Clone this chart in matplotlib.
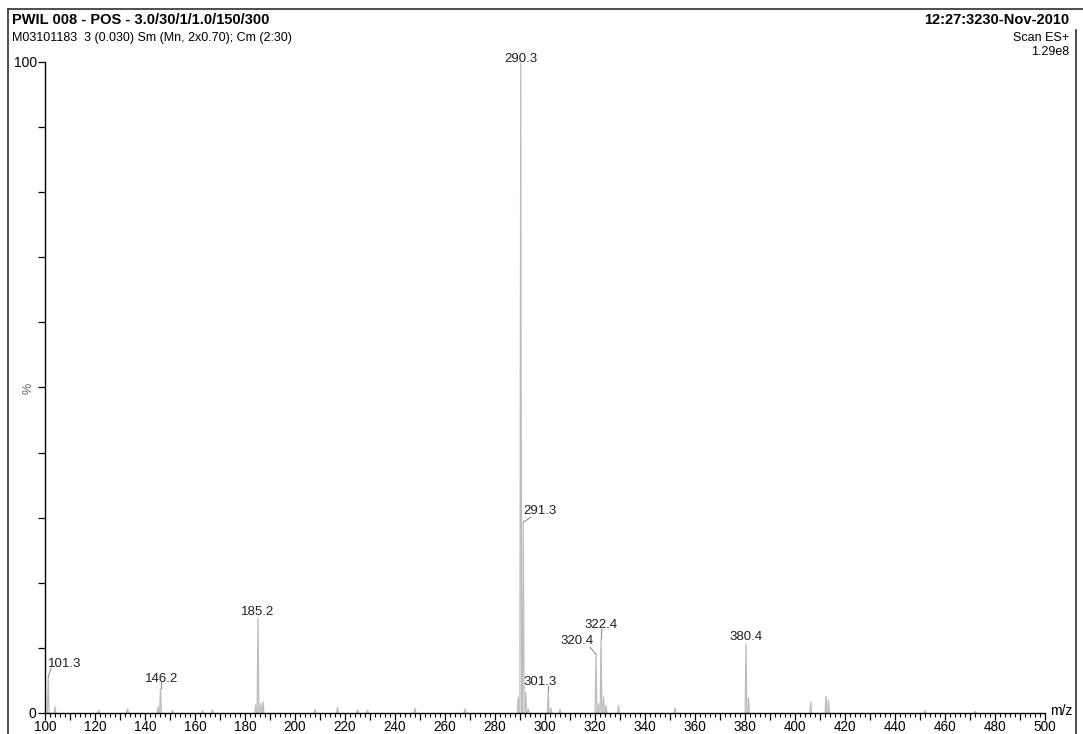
import matplotlib
matplotlib.use("Agg")
import matplotlib.pyplot as plt
from matplotlib.lines import Line2D
from matplotlib.ticker import MultipleLocator, FuncFormatter

plt.rcParams['font.family'] = ['Liberation Sans', 'DejaVu Sans']

# labelled peaks: m/z, relative intensity (%)
peak_mz = [101.3, 146.2, 185.2, 290.3, 291.3, 301.3, 320.4, 322.4, 380.4]
peak_int = [5.5, 3.8, 14.6, 100.0, 29.3, 3.4, 9.0, 11.5, 10.7]
peak_lbl = ["101.3", "146.2", "185.2", "290.3", "291.3", "301.3", "320.4", "322.4", "380.4"]
# where each label sits (m/z, %) and where its leader line ends
lbl_x = [108.0, 146.8, 185.2, 290.4, 298.0, 298.0, 313.0, 322.4, 380.4]
lbl_y = [6.6, 4.3, 14.6, 99.5, 30.1, 3.8, 10.1, 12.6, 10.7]
lead_x = [102.4, 146.2, 185.2, 290.3, 294.4, 301.3, 318.0, 322.4, 380.4]
lead_y = [6.9, 4.7, 14.6, 100.0, 30.1, 4.2, 10.1, 12.9, 10.7]

# small unlabelled peaks
minor_mz = [104.0, 121.5, 133.0, 145.2, 151.0, 163.0, 167.0, 184.3, 186.2, 187.2,
            208.0, 217.0, 225.0, 229.0, 248.0, 268.0, 289.3, 292.3, 293.3, 302.3,
            306.0, 321.4, 323.4, 324.4, 329.4, 352.0, 381.4, 406.3, 412.4, 413.4,
            452.0, 472.0]
minor_int = [1.0, 0.4, 0.7, 1.0, 0.4, 0.4, 0.5, 1.3, 1.5, 1.8,
             0.6, 0.9, 0.5, 0.5, 0.8, 0.7, 2.5, 3.2, 0.6, 0.8,
             0.6, 1.5, 2.5, 1.2, 1.2, 0.8, 2.4, 1.7, 2.6, 2.0,
             0.4, 0.3]

W, H = 1083, 734
fig = plt.figure(figsize=(W / 100, H / 100), dpi=100)
ax = fig.add_axes([45 / W, 21 / H, 1000 / W, 651 / H])

pc = '#bcbcbc'
hw = 0.35
for m, h in zip(minor_mz + peak_mz, minor_int + peak_int):
    ax.plot([m - hw, m, m + hw], [0, h, 0], color=pc, lw=0.9, solid_joinstyle='miter')

for m, h, t, tx, ty, ex, ey in zip(peak_mz, peak_int, peak_lbl, lbl_x, lbl_y, lead_x, lead_y):
    ax.text(tx, ty, t, ha='center', va='bottom', fontsize=9.5, color='#202020', clip_on=False)
    # leader from the peak top to the label
    if abs(ex - m) > 0.05 or abs(ey - h) > 0.3:
        ax.plot([m, ex], [h, ey], color='#909090', lw=0.8, clip_on=False)

ax.set_xlim(100, 500)
ax.set_ylim(0, 100)
for s in ['top', 'right']:
    ax.spines[s].set_visible(False)
for s in ['left', 'bottom']:
    ax.spines[s].set_linewidth(1.0)
    ax.spines[s].set_color('black')
ax.patch.set_alpha(0)

ax.xaxis.set_major_locator(MultipleLocator(10))
ax.xaxis.set_minor_locator(MultipleLocator(2))
ax.xaxis.set_major_formatter(FuncFormatter(lambda v, p: f"{v:.0f}" if v % 20 == 0 else ""))
ax.yaxis.set_major_locator(MultipleLocator(10))
ax.yaxis.set_major_formatter(FuncFormatter(lambda v, p: f"{v:.0f}" if v in (0, 100) else ""))
ax.tick_params(axis='x', which='major', direction='out', length=5, width=0.9, pad=0, labelsize=9.8)
ax.tick_params(axis='x', which='minor', direction='out', length=3, width=0.8)
ax.tick_params(axis='y', which='major', direction='out', length=5, width=0.9, pad=1, labelsize=10)

# header and surrounding frame
fig.text(12 / W, 1 - 20 / H, "PWIL 008 - POS - 3.0/30/1/1.0/150/300", fontsize=10.5,
         fontweight='bold', va='center', ha='left')
fig.text(12 / W, 1 - 38 / H, "M03101183  3 (0.030) Sm (Mn, 2x0.70); Cm (2:30)", fontsize=9,
         va='center', ha='left')
fig.text(1069 / W, 1 - 20 / H, "12:27:3230-Nov-2010", fontsize=10.5, fontweight='bold',
         va='center', ha='right')
fig.text(1069 / W, 1 - 38 / H, "Scan ES+", fontsize=9, va='center', ha='right')
fig.text(1069 / W, 1 - 52 / H, "1.29e8", fontsize=9, va='center', ha='right')
fig.text(28 / W, 1 - 388 / H, "%", fontsize=9, rotation=90, va='center', ha='center', color='#606060')
fig.text(1050 / W, 1 - 711 / H, "m/z", fontsize=10, va='center', ha='left')

fig.add_artist(Line2D([8 / W, 1], [1 - 9 / H, 1 - 9 / H], color='#303030', lw=1.2))
fig.add_artist(Line2D([8 / W, 8 / W], [1 - 9 / H, 0], color='#303030', lw=1.2))
fig.add_artist(Line2D([1076 / W, 1076 / W], [1 - 30 / H, 0], color='#303030', lw=1.2))

fig.savefig("out.png", dpi=100)
